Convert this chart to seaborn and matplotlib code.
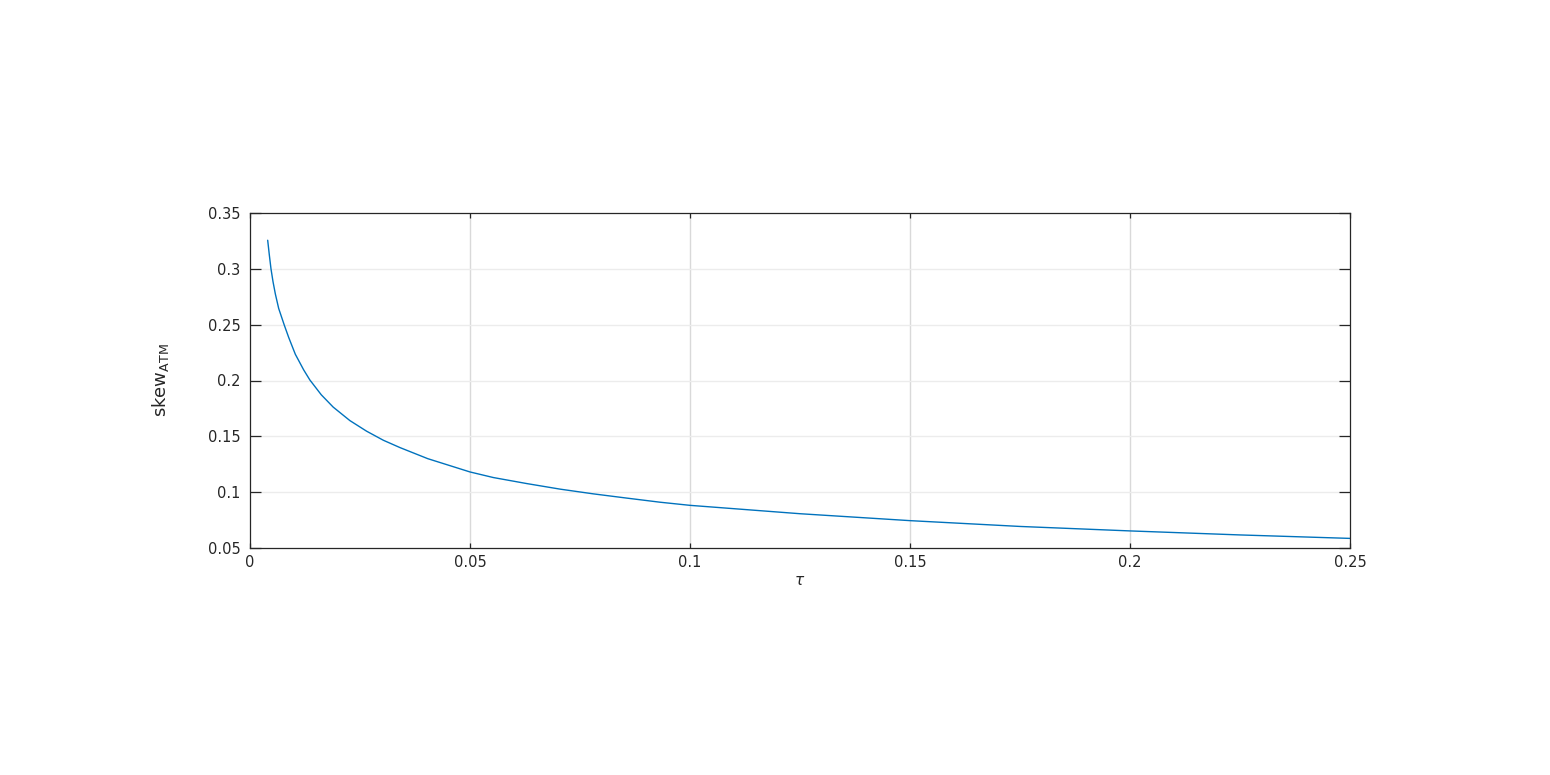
import matplotlib
matplotlib.use("Agg")
import matplotlib.pyplot as plt
import seaborn as sns
import pandas as pd

# values
tau = [0.00402, 0.00439, 0.00477, 0.00523, 0.00576, 0.00652, 0.0078, 0.0088,
       0.0103, 0.0122, 0.0136, 0.0162, 0.0189, 0.0227, 0.0265, 0.0303,
       0.0341, 0.0404, 0.0500, 0.0553, 0.0629, 0.0705, 0.0780, 0.0856,
       0.0932, 0.1000, 0.1250, 0.1500, 0.1750, 0.2000, 0.2250, 0.2500]
skew_atm = [0.3256, 0.3125, 0.3000, 0.2885, 0.2775, 0.2645, 0.2495, 0.2385,
            0.2235, 0.2095, 0.2005, 0.1872, 0.1762, 0.1641, 0.1546, 0.1465,
            0.1399, 0.1300, 0.1181, 0.1131, 0.1077, 0.1027, 0.0985, 0.0947,
            0.0910, 0.0882, 0.0807, 0.0745, 0.0693, 0.0653, 0.0617, 0.0586]
x_ticks = [0, 0.05, 0.1, 0.15, 0.2, 0.25]
x_tick_labels = ["0", "0.05", "0.1", "0.15", "0.2", "0.25"]
y_ticks = [0.05, 0.1, 0.15, 0.2, 0.25, 0.3, 0.35]
y_tick_labels = ["0.05", "0.1", "0.15", "0.2", "0.25", "0.3", "0.35"]

sns.set_theme(style="white")
plt.rcParams['font.family'] = ['DejaVu Sans']

df = pd.DataFrame({"tau": tau, "skew": skew_atm})

fig = plt.figure(figsize=(15.5, 7.75), dpi=100)
ax = fig.add_axes([250/1550, 1 - 548/775, 1100/1550, 335/775])

sns.lineplot(data=df, x="tau", y="skew", ax=ax, color="#0072BD", linewidth=1.0)

ax.set_xlim(0, 0.25)
ax.set_ylim(0.05, 0.35)
ax.set_xticks(x_ticks)
ax.set_xticklabels(x_tick_labels)
ax.set_yticks(y_ticks)
ax.set_yticklabels(y_tick_labels)

ax.grid(False)
for xv in x_ticks[1:-1]:
    ax.axvline(xv, color="#d9d9d9", linewidth=1.0, zorder=0)
for yv in y_ticks[1:-1]:
    ax.axhline(yv, color="#ececec", linewidth=1.0, zorder=0)

for s in ax.spines.values():
    s.set_color("#262626")
    s.set_linewidth(0.9)
    s.set_visible(True)

ax.tick_params(axis="x", direction="in", length=3.5, width=0.9, color="#262626",
               top=True, bottom=True, labelsize=10.5, labelcolor="#262626", pad=5)
ax.tick_params(axis="y", direction="in", length=8, width=0.9, color="#262626",
               left=True, right=True, labelsize=10.5, labelcolor="#262626", pad=7)

ax.set_xlabel(r"$\tau$", fontsize=11, color="#262626", labelpad=2)
ax.set_ylabel(r"skew$_{\mathrm{ATM}}$", fontsize=13, color="#262626", labelpad=26)

fig.savefig("out.png", dpi=100, facecolor="white")
